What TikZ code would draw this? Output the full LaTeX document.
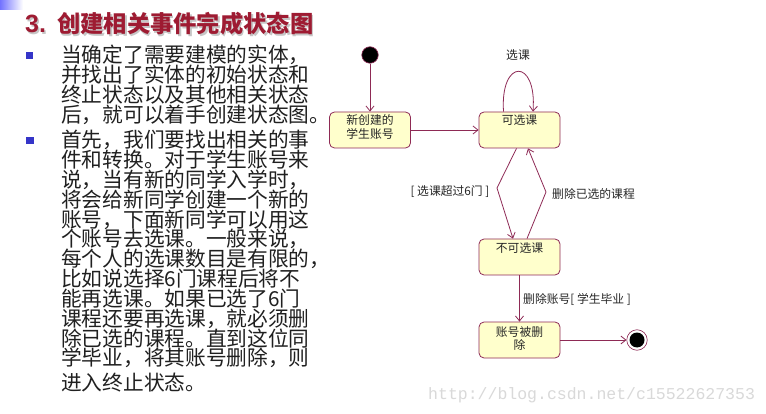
\documentclass[tikz,border=0pt]{standalone}
\usepackage{fontspec}
\setmainfont{Liberation Sans}
\newfontfamily\cjk{Noto Sans CJK SC}
\newfontfamily\wmfont{Liberation Mono}
\usetikzlibrary{arrows.meta}
\definecolor{lnc}{HTML}{8E2A55}
\definecolor{boxfill}{HTML}{FFFFCC}
\definecolor{titlered}{HTML}{9E1B32}
\definecolor{bodytext}{HTML}{202020}
\definecolor{bulletblue}{HTML}{3535C8}
\begin{document}
\begin{tikzpicture}[x=1pt,y=-1pt,
  conn/.style={draw=lnc, line width=0.8pt, -{Straight Barb[length=5pt,width=8pt]}},
  state/.style={draw=lnc, line width=0.8pt, fill=boxfill, rounded corners=5pt,
    minimum width=81pt, minimum height=36pt, inner sep=0pt},
  lbl/.style={font=\cjk\fontsize{11.8}{13.5}\selectfont, text=black!85, inner sep=0pt, align=center},
  body/.style={font=\cjk\fontsize{20.7}{20}\selectfont, text=bodytext, anchor=base west, inner sep=0pt},
  titlefont/.style={font=\cjk\bfseries\fontsize{23.3}{24}\selectfont, anchor=base west, inner sep=0pt},
  bulletsq/.style={fill=bulletblue, minimum size=7.2pt, inner sep=0pt},
]
\useasboundingbox (0,0) rectangle (766,414);
\fill[white] (0,0) rectangle (766,414);
% corner gradient
\shade[left color=blue!55!white, right color=white] (0,0) rectangle (23,10);
% title
\node[titlefont, text=gray!45] (titleshadow) at (26.5,34.5)
  {\makebox[32pt][l]{\fontspec{Liberation Sans}\bfseries\fontsize{25}{25}\selectfont 3.}创建相关事件完成状态图};
\node[titlefont, text=titlered] (title) at (25,33)
  {\makebox[32pt][l]{\fontspec{Liberation Sans}\bfseries\fontsize{25}{25}\selectfont 3.}创建相关事件完成状态图};
% bullets
\node[bulletsq] (b1) at (29.8,55.5) {};
\node[bulletsq] (b2) at (30,140.5) {};
% body text
\foreach \txt [count=\i from 0] in {当确定了需要建模的实体，,并找出了实体的初始状态和,终止状态以及其他相关状态,后，就可以着手创建状态图。}
  \node[body] (pa\i) at (61, 63+20*\i) {\txt};
\foreach \txt [count=\i from 0] in {首先，我们要找出相关的事,件和转换。对于学生账号来,说，当有新的同学入学时，,将会给新同学创建一个新的,账号，下面新同学可以用这,个账号去选课。一般来说，,每个人的选课数目是有限的，,比如说选择6门课程后将不,能再选课。如果已选了6门,课程还要再选课，就必须删,除已选的课程。直到这位同,学毕业，将其账号删除，则}
  \node[body] (pb\i) at (61, 148+19.8*\i) {\txt};
\node[body] (pblast) at (61, 390) {进入终止状态。};
% diagram states
\node[circle, fill=black, draw=lnc, line width=0.6pt, minimum size=16.5pt, inner sep=0pt] (init) at (370,55) {};
\node[state] (new) at (370,130) {};
\node[lbl] (newt) at (370,127) {新创建的\\学生账号};
\node[state] (sel) at (519.5,130) {};
\node[lbl] (selt) at (519.5,120.5) {可选课};
\node[state] (nosel) at (519.5,257) {};
\node[lbl] (noselt) at (519.5,248) {不可选课};
\node[state] (del) at (519.5,340) {};
\node[lbl] (delt) at (519.5,338.5) {账号被删\\除};
\node[circle, draw=lnc, line width=0.6pt, minimum size=20.5pt, inner sep=0pt] (fin) at (637,340) {};
\node[circle, fill=black, minimum size=15pt, inner sep=0pt] (finin) at (fin) {};
% kinks
\coordinate (k1) at (497,188);
\coordinate (k2) at (546,192);
% connectors
\draw[conn] (init) -- (new);
\draw[conn] (new) -- (sel);
\draw[conn] ([xshift=-16pt]sel.north) .. controls (500,58) and (537,58) .. ([xshift=13.5pt]sel.north);
\draw[conn] ([xshift=-3pt]sel.south) -- (k1) -- ([xshift=-6.5pt]nosel.north);
\draw[conn] ([xshift=7.5pt]nosel.north) -- (k2) -- ([xshift=8.5pt]sel.south);
\draw[conn] (nosel) -- (del);
\draw[conn] (del) -- (fin);
% labels
\node[lbl] (lloop) at (518,55) {选课};
\node[lbl] (lover) at (450,192) {[ 选课超过6门 ]};
\node[lbl] (ldrop) at (593.5,194) {删除已选的课程};
\node[lbl, anchor=west] (lgrad) at (523,299) {删除账号[ 学生毕业 ]};
% watermark
\node[anchor=base west, inner sep=0pt, font=\wmfont\fontsize{16.5}{16}\selectfont, text=gray!30] (wm) at (428,399) {http://blog.csdn.net/c15522627353};
\end{tikzpicture}
\end{document}
